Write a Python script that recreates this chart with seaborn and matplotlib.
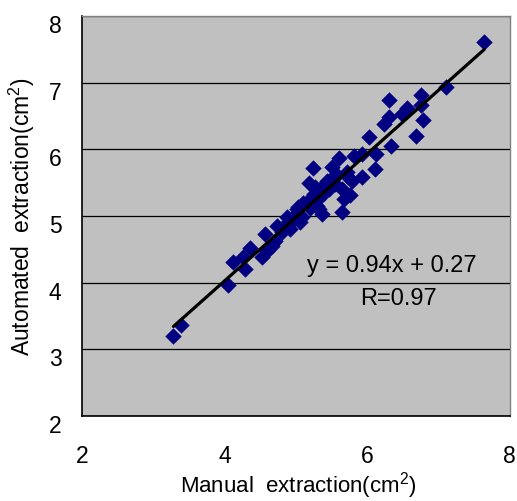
import numpy as np
import pandas as pd
import matplotlib
matplotlib.use("Agg")
import matplotlib.pyplot as plt
import matplotlib.transforms as mtransforms
import seaborn as sns

# values
manual = [3.28, 3.39, 4.04, 4.11, 4.25, 4.29, 4.36, 4.53, 4.57, 4.60,
          4.66, 4.70, 4.74, 4.80, 4.85, 4.88, 4.92, 4.95, 4.98, 5.01,
          5.06, 5.03, 5.08, 5.10, 5.15, 5.18, 5.19, 5.24, 5.25, 5.26,
          5.29, 5.31, 5.33, 5.36, 5.40, 5.43, 5.47, 5.50, 5.52, 5.55,
          5.61, 5.64, 5.65, 5.68, 5.71, 5.72, 5.76, 5.79, 5.81, 5.92,
          5.93, 6.03, 6.11, 6.12, 6.24, 6.31, 6.31, 6.33, 6.49, 6.56,
          6.69, 6.75, 6.76, 6.78, 7.11, 7.64, 5.58, 5.38]
automated = [3.20, 3.36, 3.97, 4.31, 4.38, 4.20, 4.52, 4.39, 4.73, 4.47,
             4.55, 4.62, 4.85, 4.76, 4.87, 4.99, 4.80, 4.93, 5.02, 5.10,
             4.91, 5.13, 4.98, 5.20, 5.21, 5.49, 5.12, 5.72, 5.33, 5.43,
             5.15, 5.25, 5.10, 5.03, 5.35, 5.52, 5.40, 5.73, 5.58, 5.48,
             5.87, 5.40, 5.06, 5.25, 5.66, 5.60, 5.31, 5.52, 5.90, 5.58,
             5.93, 6.18, 5.70, 5.93, 6.38, 6.48, 6.74, 6.05, 6.53, 6.62,
             6.20, 6.81, 6.66, 6.44, 6.93, 7.61, 5.62, 5.45]
eq_text = "y = 0.94x + 0.27"
r_text = "R=0.97"

df = pd.DataFrame({"manual": manual, "automated": automated})

sns.set_theme(style="white")
plt.rcParams["font.family"] = ["Liberation Sans", "DejaVu Sans"]
plt.rcParams.update({
    "text.color": "black", "axes.labelcolor": "black",
    "xtick.color": "black", "ytick.color": "black",
    "mathtext.fontset": "custom", "mathtext.rm": "Liberation Sans",
    "mathtext.it": "Liberation Sans:italic", "mathtext.bf": "Liberation Sans:bold",
})

fig = plt.figure(figsize=(5.17, 5.02), dpi=100)
ax = fig.add_axes([0.159, 0.169, 0.827, 0.797])
ax.set_facecolor("#C0C0C0")

sns.regplot(data=df, x="manual", y="automated", ax=ax, ci=None, truncate=True,
            marker="D",
            scatter_kws=dict(color="#000080", s=70, alpha=1, linewidths=0, zorder=3),
            line_kws=dict(color="black", lw=2.3, zorder=4))

ax.set_xlim(2, 8)
ax.set_ylim(2, 8)
ax.set_xticks([2, 4, 6, 8])
ax.set_yticks([2, 3, 4, 5, 6, 7, 8])
ax.yaxis.grid(True, color="black", lw=0.9)
ax.set_axisbelow(True)

ax.tick_params(axis="x", direction="in", length=6, width=1, color="black",
               pad=20, labelsize=16.5)
ax.tick_params(axis="y", direction="in", length=0, pad=15, labelsize=16.5)

# y tick labels sit a little below their grid lines in the original
shift = mtransforms.ScaledTranslation(0, -7 / 100, fig.dpi_scale_trans)
for lab in ax.get_yticklabels():
    lab.set_transform(lab.get_transform() + shift)

for side in ["left", "bottom"]:
    ax.spines[side].set_color("black")
    ax.spines[side].set_linewidth(1.2)
for side in ["top", "right"]:
    ax.spines[side].set_color("#808080")
    ax.spines[side].set_linewidth(1.0)

ax.set_xlabel("Manual  extraction(cm$^2$)", fontsize=16, va="top")
ax.xaxis.set_label_coords(0.505, -0.133)
ax.set_ylabel("Automated  extraction(cm$^2$)", fontsize=16.5)
ax.yaxis.set_label_coords(-0.105, 0.5)

ax.text(0.923, 0.3775, eq_text, transform=ax.transAxes,
        ha="right", va="center", fontsize=17)
ax.text(0.829, 0.295, r_text, transform=ax.transAxes,
        ha="right", va="center", fontsize=17)

fig.savefig("out.png", dpi=100)
